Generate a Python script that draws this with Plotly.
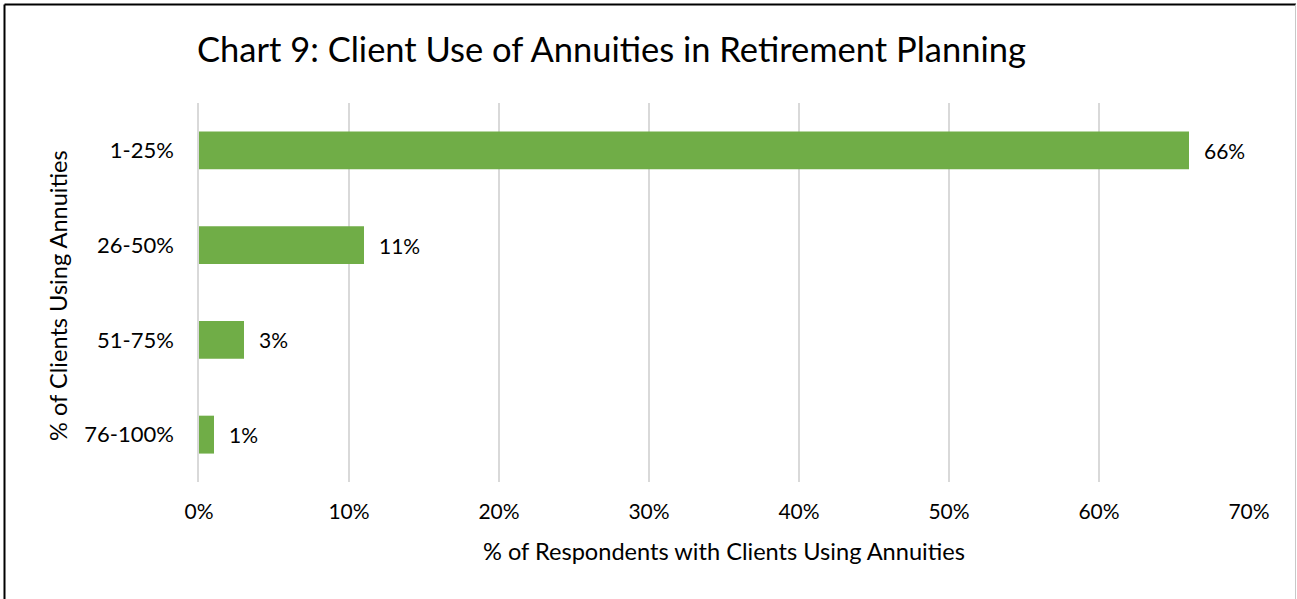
import plotly.graph_objects as go

# Survey results: share of respondents by how many of their clients use annuities
categories = ["1-25%", "26-50%", "51-75%", "76-100%"]
share_pct = [66, 11, 3, 1]
x_ticks = [0, 10, 20, 30, 40, 50, 60, 70]
x_tick_labels = [f"{t}%" for t in x_ticks]

FONT = "Lato"
BAR_GREEN = "#70AD47"
GRID = "#D9D9D9"
TEXT = "#000000"

W, H = 1297, 599
M_L, M_R, M_T, M_B = 199, 48, 103, 117
plot_w = W - M_L - M_R
plot_h = H - M_T - M_B


def px_to_paper_x(px):
    return (px - M_L) / plot_w


def px_to_paper_y(py):
    return 1 - (py - M_T) / plot_h


fig = go.Figure()
fig.add_trace(go.Bar(
    x=share_pct,
    y=categories,
    orientation="h",
    marker=dict(color=BAR_GREEN, line=dict(width=0)),
    hoverinfo="skip",
))

# value labels just right of each bar end
for cat, val in zip(categories, share_pct):
    fig.add_annotation(
        x=val, y=cat, xref="x", yref="y",
        text=f"{val}%", showarrow=False,
        xanchor="left", xshift=13,
        font=dict(family=FONT, size=21, color=TEXT),
    )

# axis titles
fig.add_annotation(
    x=0.5, y=px_to_paper_y(551), xref="paper", yref="paper",
    text="% of Respondents with Clients Using Annuities", showarrow=False,
    xanchor="center", yanchor="middle",
    font=dict(family=FONT, size=23.6, color=TEXT),
)
fig.add_annotation(
    x=px_to_paper_x(58), y=px_to_paper_y(296), xref="paper", yref="paper",
    text="% of Clients Using Annuities", showarrow=False, textangle=-90,
    xanchor="center", yanchor="middle",
    font=dict(family=FONT, size=23.6, color=TEXT),
)

# outer chart frame
fig.add_shape(
    type="line", xref="paper", yref="paper",
    x0=px_to_paper_x(4.5), x1=px_to_paper_x(1296),
    y0=px_to_paper_y(4.5), y1=px_to_paper_y(4.5),
    line=dict(color="#000000", width=2),
)
fig.add_shape(
    type="line", xref="paper", yref="paper",
    x0=px_to_paper_x(4.5), x1=px_to_paper_x(4.5),
    y0=px_to_paper_y(4.5), y1=px_to_paper_y(605),
    line=dict(color="#000000", width=2),
)
fig.add_shape(
    type="line", xref="paper", yref="paper",
    x0=px_to_paper_x(1295.5), x1=px_to_paper_x(1295.5),
    y0=px_to_paper_y(4.5), y1=px_to_paper_y(605),
    line=dict(color="#C8C8C8", width=1),
)

fig.update_layout(
    width=W, height=H,
    margin=dict(l=M_L, r=M_R, t=M_T, b=M_B, pad=0),
    paper_bgcolor="white", plot_bgcolor="white",
    showlegend=False,
    bargap=0.6,
    title=dict(
        text="Chart 9: Client Use of Annuities in Retirement Planning",
        x=197 / W, xanchor="left", xref="container",
        y=1 - 50 / H, yanchor="middle", yref="container",
        font=dict(family=FONT, size=34.5, color=TEXT),
    ),
    xaxis=dict(
        range=[0, 70],
        tickvals=x_ticks, ticktext=x_tick_labels,
        showgrid=True, gridcolor=GRID, gridwidth=1.5,
        zeroline=False, showline=False, ticks="",
        ticklabelstandoff=15,
        tickfont=dict(family=FONT, size=21, color=TEXT),
        fixedrange=True,
    ),
    yaxis=dict(
        categoryorder="array", categoryarray=categories,
        autorange="reversed",
        showgrid=False, zeroline=False,
        showline=True, linecolor=GRID, linewidth=1.5,
        ticks="",
        ticklabelstandoff=19,
        tickfont=dict(family=FONT, size=22, color=TEXT),
        fixedrange=True,
    ),
)

fig.write_html("out.html")
